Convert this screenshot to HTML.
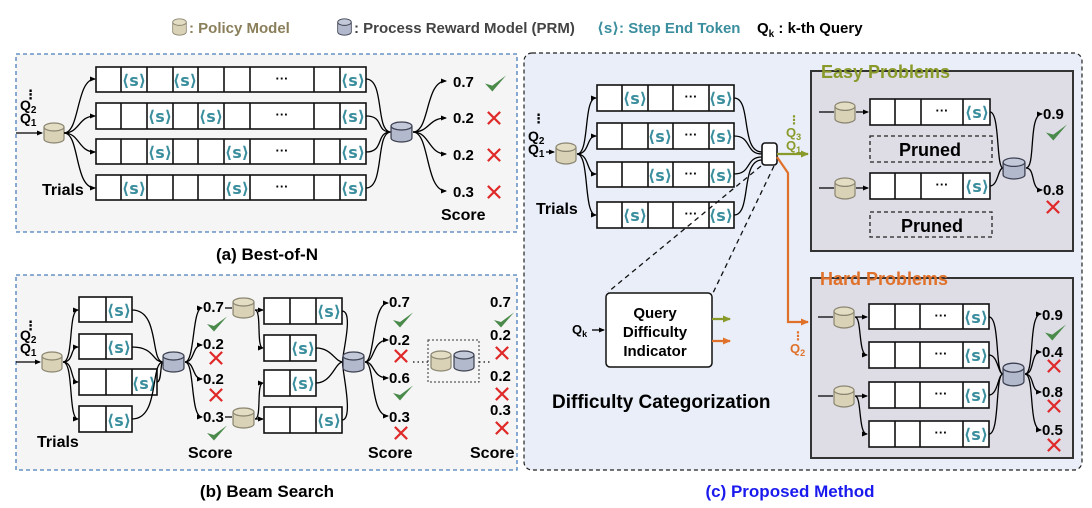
<!DOCTYPE html>
<html><head><meta charset="utf-8"><style>
html,body{margin:0;padding:0;background:#fff}
svg{display:block}
text{font-family:"Liberation Sans","DejaVu Sans",sans-serif;font-weight:bold}
.s{fill:#3a8e9e;font-size:16px;font-family:"DejaVu Sans","Liberation Sans",sans-serif;text-anchor:middle}
.d{font-size:13px;text-anchor:middle}
.sc{font-size:15px}
.c{fill:none;stroke:#000;stroke-width:1.3}
.cell{fill:#fff;stroke:#111;stroke-width:1.6}
</style></head><body>
<svg width="1092" height="508" viewBox="0 0 1092 508" xmlns="http://www.w3.org/2000/svg">
<defs>
<marker id="ar" markerWidth="6" markerHeight="6" refX="5" refY="3" orient="auto" markerUnits="userSpaceOnUse"><path d="M0,0.5 L6,3 L0,5.5z" fill="#000"/></marker>
<marker id="ag" markerWidth="8" markerHeight="8" refX="7" refY="4" orient="auto" markerUnits="userSpaceOnUse"><path d="M0,0.5 L8,4 L0,7.5z" fill="#8a9a2a"/></marker>
<marker id="ao" markerWidth="8" markerHeight="8" refX="7" refY="4" orient="auto" markerUnits="userSpaceOnUse"><path d="M0,0.5 L8,4 L0,7.5z" fill="#e0712a"/></marker>
<symbol id="pol" viewBox="0 0 22 22" preserveAspectRatio="none"><path d="M1,5 V17 A10,4 0 0 0 21,17 V5" fill="#d9d2b6" stroke="#8a8570" stroke-width="1.2"/><ellipse cx="11" cy="5" rx="10" ry="4" fill="#e3ddc4" stroke="#8a8570" stroke-width="1.2"/></symbol>
<symbol id="prm" viewBox="0 0 22 22" preserveAspectRatio="none"><path d="M1,5 V17 A10,4 0 0 0 21,17 V5" fill="#b3b9cc" stroke="#3c4050" stroke-width="1.2"/><ellipse cx="11" cy="5" rx="10" ry="4" fill="#c4c9da" stroke="#3c4050" stroke-width="1.2"/></symbol>
<symbol id="chk" viewBox="0 0 20 16" preserveAspectRatio="none"><path d="M0,8 L7,15.5 L20,0.5 L7,10z" fill="#4a8a4a"/></symbol>
<symbol id="x" viewBox="0 0 16 16" preserveAspectRatio="none"><path d="M1,1 L15,15 M15,1 L1,15" stroke="#e02a2a" stroke-width="2.6"/></symbol>
</defs>

<!-- legend -->
<use href="#pol" x="172" y="18" width="15" height="18"/>
<text x="189" y="33" font-size="15" fill="#8a7f5a">: Policy Model</text>
<use href="#prm" x="337" y="18" width="15" height="18"/>
<text x="354" y="33" font-size="15" fill="#444">: Process Reward Model (PRM)</text>
<text x="597" y="33" font-size="15" fill="#3a8e9e">⟨s⟩: Step End Token</text>
<text x="757" y="33" font-size="15" fill="#000">Q<tspan font-size="10" dy="4">k</tspan><tspan dy="-4"> : k-th Query</tspan></text>

<!-- Panel A -->
<rect x="16" y="54" width="501" height="178" fill="#f5f5f5" stroke="#4a7ebb" stroke-width="1.3" stroke-dasharray="4,3"/>
<g>
<rect class="cell" x="96" y="67" width="270" height="25"/><rect class="cell" x="96" y="103" width="270" height="26"/><rect class="cell" x="96" y="139" width="270" height="25"/><rect class="cell" x="96" y="175" width="270" height="25"/>
<path d="M121,67V92M147,67V92M173,67V92M198,67V92M224,67V92M250,67V92M314,67V92M340,67V92 M121,103V129M147,103V129M173,103V129M198,103V129M224,103V129M250,103V129M314,103V129M340,103V129 M121,139V164M147,139V164M173,139V164M198,139V164M224,139V164M250,139V164M314,139V164M340,139V164 M121,175V200M147,175V200M173,175V200M198,175V200M224,175V200M250,175V200M314,175V200M340,175V200" stroke="#111" stroke-width="1.6"/>
<text class="s" x="134" y="86">⟨s⟩</text><text class="s" x="185" y="86">⟨s⟩</text><text class="s" x="353" y="86">⟨s⟩</text>
<text class="s" x="160" y="122">⟨s⟩</text><text class="s" x="211" y="122">⟨s⟩</text><text class="s" x="353" y="122">⟨s⟩</text>
<text class="s" x="160" y="158">⟨s⟩</text><text class="s" x="237" y="158">⟨s⟩</text><text class="s" x="353" y="158">⟨s⟩</text>
<text class="s" x="134" y="194">⟨s⟩</text><text class="s" x="237" y="194">⟨s⟩</text><text class="s" x="353" y="194">⟨s⟩</text>
<text class="d" x="282" y="83">···</text><text class="d" x="282" y="119">···</text><text class="d" x="282" y="155">···</text><text class="d" x="282" y="191">···</text>
</g>
<text x="24" y="99" font-size="13">⋮</text>
<text x="20" y="110" font-size="14">Q<tspan font-size="10" dy="3">2</tspan></text>
<text x="20" y="123" font-size="14">Q<tspan font-size="10" dy="3">1</tspan></text>
<path class="c" d="M16,133 H42" marker-end="url(#ar)"/>
<use href="#pol" x="43" y="122" width="22" height="22"/>
<path class="c" d="M64,133 C80,133 76,79 95,79" marker-end="url(#ar)"/>
<path class="c" d="M64,133 C80,133 78,116 95,116" marker-end="url(#ar)"/>
<path class="c" d="M64,133 C80,133 78,152 95,152" marker-end="url(#ar)"/>
<path class="c" d="M64,133 C80,133 74,188 95,188" marker-end="url(#ar)"/>
<text x="42" y="195" font-size="16">Trials</text>
<path class="c" d="M366,79 C385,79 375,132 391,132 M366,116 C385,116 375,132 391,132 M366,152 C385,152 375,132 391,132 M366,188 C385,188 375,132 391,132"/>
<use href="#prm" x="390" y="121" width="23" height="22"/>
<path class="c" d="M413,132 C430,132 425,81 446,81" marker-end="url(#ar)"/>
<path class="c" d="M413,132 C430,132 428,118 446,118" marker-end="url(#ar)"/>
<path class="c" d="M413,132 C430,132 428,154 446,154" marker-end="url(#ar)"/>
<path class="c" d="M413,132 C430,132 425,191 446,191" marker-end="url(#ar)"/>
<text class="sc" x="453" y="87" font-size="16">0.7</text><text class="sc" x="453" y="123">0.2</text><text class="sc" x="453" y="160">0.2</text><text class="sc" x="453" y="197">0.3</text>
<use href="#chk" x="485" y="75" width="21" height="17"/>
<use href="#x" x="487" y="111" width="14" height="14"/><use href="#x" x="487" y="148" width="14" height="14"/><use href="#x" x="487" y="185" width="14" height="14"/>
<text x="441" y="220" font-size="16">Score</text>
<text x="267" y="260" font-size="17" text-anchor="middle">(a) Best-of-N</text>

<!-- Panel B -->
<rect x="16" y="275" width="501" height="195" fill="#f5f5f5" stroke="#4a7ebb" stroke-width="1.3" stroke-dasharray="4,3"/>
<rect class="cell" x="79" y="297" width="53" height="25"/><rect class="cell" x="79" y="334" width="53" height="25"/><rect class="cell" x="79" y="369" width="78" height="26"/><rect class="cell" x="79" y="406" width="53" height="26"/>
<path d="M106,297V322M106,334V359M106,369V395M132,369V395M106,406V432" stroke="#111" stroke-width="1.6"/>
<text class="s" x="119" y="316">⟨s⟩</text><text class="s" x="119" y="353">⟨s⟩</text><text class="s" x="144" y="389">⟨s⟩</text><text class="s" x="119" y="426">⟨s⟩</text>
<text x="24" y="330" font-size="13">⋮</text>
<text x="20" y="340" font-size="14">Q<tspan font-size="10" dy="3">2</tspan></text>
<text x="20" y="353" font-size="14">Q<tspan font-size="10" dy="3">1</tspan></text>
<path class="c" d="M16,362 H40" marker-end="url(#ar)"/>
<use href="#pol" x="41" y="351" width="22" height="22"/>
<path class="c" d="M63,362 C74,362 68,310 78,310" marker-end="url(#ar)"/>
<path class="c" d="M63,362 C74,362 70,347 78,347" marker-end="url(#ar)"/>
<path class="c" d="M63,362 C74,362 70,382 78,382" marker-end="url(#ar)"/>
<path class="c" d="M63,362 C74,362 68,419 78,419" marker-end="url(#ar)"/>
<text x="37" y="447" font-size="16">Trials</text>
<path class="c" d="M132,310 C160,310 150,362 163,362 M132,347 C155,347 152,362 163,362 M157,382 C162,382 160,362 163,362 M132,419 C160,419 150,362 163,362"/>
<use href="#prm" x="162" y="351" width="23" height="22"/>
<path class="c" d="M185,362 C195,362 192,308 202,308" marker-end="url(#ar)"/>
<path class="c" d="M185,362 C195,362 192,345 202,345" marker-end="url(#ar)"/>
<path class="c" d="M185,362 C195,362 192,379 202,379" marker-end="url(#ar)"/>
<path class="c" d="M185,362 C195,362 190,417 202,417" marker-end="url(#ar)"/>
<text class="sc" x="203" y="312">0.7</text><text class="sc" x="203" y="349">0.2</text><text class="sc" x="203" y="384">0.2</text><text class="sc" x="203" y="422">0.3</text>
<use href="#chk" x="207" y="316" width="20" height="16"/><use href="#x" x="209" y="351" width="14" height="14"/><use href="#x" x="209" y="388" width="14" height="14"/><use href="#chk" x="207" y="425" width="20" height="16"/>
<path class="c" d="M225,308 H232 M225,417 H232"/>
<use href="#pol" x="232" y="297" width="23" height="22"/><use href="#pol" x="232" y="407" width="23" height="22"/>
<path class="c" d="M255,310 H263" marker-end="url(#ar)"/>
<path class="c" d="M255,310 C262,310 256,348 263,348" marker-end="url(#ar)"/>
<path class="c" d="M255,419 C262,419 256,383 263,383" marker-end="url(#ar)"/>
<path class="c" d="M255,419 H263" marker-end="url(#ar)"/>
<rect class="cell" x="264" y="298" width="78" height="26"/><rect class="cell" x="264" y="335" width="52" height="26"/><rect class="cell" x="264" y="370" width="52" height="26"/><rect class="cell" x="264" y="407" width="78" height="26"/>
<path d="M290,298V324M316,298V324M290,335V361M290,370V396M290,407V433M316,407V433" stroke="#111" stroke-width="1.6"/>
<text class="s" x="329" y="317">⟨s⟩</text><text class="s" x="303" y="354">⟨s⟩</text><text class="s" x="303" y="389">⟨s⟩</text><text class="s" x="329" y="426">⟨s⟩</text>
<path class="c" d="M342,311 C355,311 340,362 343,362 M316,348 C332,348 335,362 343,362 M316,383 C332,383 335,362 343,362 M342,420 C355,420 340,362 343,362"/>
<use href="#prm" x="342" y="351" width="23" height="22"/>
<path class="c" d="M365,362 C375,362 372,303 388,303" marker-end="url(#ar)"/>
<path class="c" d="M365,362 C375,362 372,340 388,340" marker-end="url(#ar)"/>
<path class="c" d="M365,362 C375,362 372,378 388,378" marker-end="url(#ar)"/>
<path class="c" d="M365,362 C375,362 370,416 388,416" marker-end="url(#ar)"/>
<text class="sc" x="389" y="307">0.7</text><text class="sc" x="389" y="345">0.2</text><text class="sc" x="389" y="383">0.6</text><text class="sc" x="389" y="422">0.3</text>
<use href="#chk" x="393" y="312" width="20" height="16"/><use href="#x" x="394" y="349" width="14" height="14"/><use href="#chk" x="393" y="385" width="20" height="16"/><use href="#x" x="394" y="426" width="14" height="14"/>
<path d="M413,362 H428 M479,362 H490" stroke="#333" stroke-width="1.5" stroke-dasharray="1.5,3"/>
<rect x="428" y="340" width="51" height="42" fill="none" stroke="#333" stroke-width="1" stroke-dasharray="2,2"/>
<use href="#pol" x="430" y="350" width="22" height="22"/><use href="#prm" x="453" y="350" width="22" height="22"/>
<text class="sc" x="490" y="307">0.7</text><text class="sc" x="490" y="340">0.2</text><text class="sc" x="490" y="381">0.2</text><text class="sc" x="490" y="415">0.3</text>
<use href="#chk" x="494" y="312" width="20" height="16"/><use href="#x" x="495" y="346" width="14" height="14"/><use href="#x" x="495" y="387" width="14" height="14"/><use href="#x" x="495" y="421" width="14" height="14"/>
<text x="188" y="458" font-size="16">Score</text><text x="368" y="458" font-size="16">Score</text><text x="470" y="458" font-size="16">Score</text>
<text x="267" y="497" font-size="17" text-anchor="middle">(b) Beam Search</text>

<!-- Panel C -->
<rect x="524" y="53" width="558" height="417" rx="8" fill="#e9eef8" stroke="#222" stroke-width="1.2" stroke-dasharray="4,3"/>
<rect class="cell" x="597" y="85" width="137" height="26"/><rect class="cell" x="597" y="123" width="137" height="26"/><rect class="cell" x="597" y="162" width="137" height="25"/><rect class="cell" x="597" y="202" width="137" height="26"/>
<path d="M622,85V111M648,85V111M673,85V111M709,85V111 M622,123V149M648,123V149M673,123V149M709,123V149 M622,162V187M648,162V187M673,162V187M709,162V187 M622,202V228M648,202V228M673,202V228M709,202V228" stroke="#111" stroke-width="1.6"/>
<text class="s" x="635" y="104">⟨s⟩</text><text class="s" x="721" y="104">⟨s⟩</text>
<text class="s" x="660" y="142">⟨s⟩</text><text class="s" x="721" y="142">⟨s⟩</text>
<text class="s" x="660" y="181">⟨s⟩</text><text class="s" x="721" y="181">⟨s⟩</text>
<text class="s" x="635" y="221">⟨s⟩</text><text class="s" x="721" y="221">⟨s⟩</text>
<text class="d" x="691" y="101">···</text><text class="d" x="691" y="139">···</text><text class="d" x="691" y="178">···</text><text class="d" x="691" y="218">···</text>
<text x="532" y="123" font-size="13">⋮</text>
<text x="528" y="141" font-size="14">Q<tspan font-size="10" dy="3">2</tspan></text>
<text x="528" y="154" font-size="14">Q<tspan font-size="10" dy="3">1</tspan></text>
<path class="c" d="M546,152 H554" marker-end="url(#ar)"/>
<use href="#pol" x="555" y="142" width="22" height="23"/>
<path class="c" d="M577,154 C590,154 583,98 596,98" marker-end="url(#ar)"/>
<path class="c" d="M577,154 C590,154 586,136 596,136" marker-end="url(#ar)"/>
<path class="c" d="M577,154 C590,154 586,174 596,174" marker-end="url(#ar)"/>
<path class="c" d="M577,154 C590,154 583,215 596,215" marker-end="url(#ar)"/>
<text x="536" y="214" font-size="16">Trials</text>
<path class="c" d="M734,98 C752,98 740,152 762,152 M734,136 C752,136 745,154 762,154 M734,174 C752,174 745,157 762,157 M734,215 C752,215 740,160 762,160"/>
<rect x="762" y="143" width="15" height="22" rx="3" fill="#fff" stroke="#111" stroke-width="1.6"/>
<path d="M761,166 L608,292 M774,166 L712,295" stroke="#111" stroke-width="1.3" stroke-dasharray="5,4"/>
<path d="M777,154 H808" stroke="#8a9a2a" stroke-width="2.2" marker-end="url(#ag)"/>
<text x="788" y="124" font-size="12" fill="#8a9a2a">⋮</text>
<text x="786" y="137" font-size="13" fill="#8a9a2a">Q<tspan font-size="9" dy="3">3</tspan></text>
<text x="786" y="150" font-size="13" fill="#8a9a2a">Q<tspan font-size="9" dy="3">1</tspan></text>
<path d="M777,157 L788,173 V322 H808" fill="none" stroke="#e0712a" stroke-width="2.2" marker-end="url(#ao)"/>
<text x="792" y="340" font-size="12" fill="#e0712a">⋮</text>
<text x="790" y="353" font-size="13" fill="#e0712a">Q<tspan font-size="9" dy="3">2</tspan></text>
<rect x="606" y="293" width="106" height="74" rx="4" fill="#fff" stroke="#111" stroke-width="1.5"/>
<text x="655" y="318" font-size="15" text-anchor="middle">Query</text>
<text x="655" y="337" font-size="15" text-anchor="middle">Difficulty</text>
<text x="655" y="356" font-size="15" text-anchor="middle">Indicator</text>
<text x="572" y="334" font-size="13">Q<tspan font-size="9" dy="3">k</tspan></text>
<path class="c" d="M592,330 H604" marker-end="url(#ar)"/>
<path d="M712,319 H730" stroke="#8a9a2a" stroke-width="2.2" marker-end="url(#ag)"/>
<path d="M712,341 H730" stroke="#e0712a" stroke-width="2.2" marker-end="url(#ao)"/>
<text x="552" y="408" font-size="19">Difficulty Categorization</text>

<!-- Easy -->
<rect x="811" y="71" width="262" height="180" fill="#dedce5" stroke="#333" stroke-width="2"/>
<text x="821" y="78" font-size="18" fill="#8a9a2a">Easy Problems</text>
<path class="c" d="M819,112 H834 M856,112 H868" marker-end="url(#ar)"/>
<path class="c" d="M819,188 H834 M856,188 H868" marker-end="url(#ar)"/>
<use href="#pol" x="834" y="101" width="22" height="23"/><use href="#pol" x="834" y="177" width="22" height="23"/>
<rect class="cell" x="870" y="99" width="120" height="26"/><rect class="cell" x="870" y="173" width="120" height="26"/>
<path d="M895,99V125M921,99V125M963,99V125M895,173V199M921,173V199M963,173V199" stroke="#111" stroke-width="1.6"/>
<text class="s" x="977" y="118">⟨s⟩</text><text class="s" x="977" y="192">⟨s⟩</text>
<text class="d" x="942" y="115">···</text><text class="d" x="942" y="189">···</text>
<rect x="870" y="136" width="122" height="26" fill="none" stroke="#222" stroke-width="1.3" stroke-dasharray="4,3"/>
<rect x="870" y="212" width="122" height="25" fill="none" stroke="#222" stroke-width="1.3" stroke-dasharray="4,3"/>
<text x="930" y="156" font-size="18" text-anchor="middle">Pruned</text>
<text x="932" y="232" font-size="18" text-anchor="middle">Pruned</text>
<path class="c" d="M990,112 C1000,112 996,168 1003,168 M990,186 C998,186 998,168 1003,168"/>
<use href="#prm" x="1002" y="157" width="24" height="23"/>
<path class="c" d="M1026,168 C1036,168 1028,114 1042,114" marker-end="url(#ar)"/>
<path class="c" d="M1026,168 C1036,168 1030,190 1042,190" marker-end="url(#ar)"/>
<text class="sc" x="1043" y="119">0.9</text><text class="sc" x="1043" y="195">0.8</text>
<use href="#chk" x="1046" y="124" width="21" height="17"/><use href="#x" x="1046" y="200" width="14" height="14"/>

<!-- Hard -->
<rect x="811" y="278" width="262" height="180" fill="#dedce5" stroke="#333" stroke-width="2"/>
<text x="820" y="285" font-size="18" fill="#e0712a">Hard Problems</text>
<path class="c" d="M818,317 H833 M855,317 H867" marker-end="url(#ar)"/>
<path class="c" d="M818,396 H833 M855,396 H867" marker-end="url(#ar)"/>
<path class="c" d="M855,317 C862,317 858,355 867,355" marker-end="url(#ar)"/>
<path class="c" d="M855,396 C862,396 858,434 867,434" marker-end="url(#ar)"/>
<use href="#pol" x="833" y="306" width="22" height="23"/><use href="#pol" x="833" y="385" width="22" height="23"/>
<rect class="cell" x="869" y="304" width="120" height="25"/><rect class="cell" x="869" y="342" width="120" height="26"/><rect class="cell" x="869" y="382" width="120" height="26"/><rect class="cell" x="869" y="421" width="120" height="26"/>
<path d="M895,304V329M920,304V329M963,304V329 M895,342V368M920,342V368M963,342V368 M895,382V408M920,382V408M963,382V408 M895,421V447M920,421V447M963,421V447" stroke="#111" stroke-width="1.6"/>
<text class="s" x="976" y="323">⟨s⟩</text><text class="s" x="976" y="361">⟨s⟩</text><text class="s" x="976" y="401">⟨s⟩</text><text class="s" x="976" y="440">⟨s⟩</text>
<text class="d" x="941" y="320">···</text><text class="d" x="941" y="358">···</text><text class="d" x="941" y="398">···</text><text class="d" x="941" y="437">···</text>
<path class="c" d="M989,317 C1000,317 995,374 1003,374 M989,355 C998,355 998,374 1003,374 M989,395 C998,395 998,374 1003,374 M989,434 C1000,434 995,374 1003,374"/>
<use href="#prm" x="1002" y="362" width="23" height="25"/>
<path class="c" d="M1025,374 C1035,374 1028,314 1041,314" marker-end="url(#ar)"/>
<path class="c" d="M1025,374 C1035,374 1030,352 1041,352" marker-end="url(#ar)"/>
<path class="c" d="M1025,374 C1035,374 1030,392 1041,392" marker-end="url(#ar)"/>
<path class="c" d="M1025,374 C1035,374 1028,430 1041,430" marker-end="url(#ar)"/>
<text class="sc" x="1042" y="320">0.9</text><text class="sc" x="1042" y="357">0.4</text><text class="sc" x="1042" y="397">0.8</text><text class="sc" x="1042" y="435">0.5</text>
<use href="#chk" x="1045" y="324" width="21" height="17"/><use href="#x" x="1047" y="359" width="14" height="14"/><use href="#x" x="1047" y="399" width="14" height="14"/><use href="#x" x="1047" y="438" width="14" height="14"/>

<text x="790" y="497" font-size="17" text-anchor="middle" fill="#1a1aee">(c) Proposed Method</text>
</svg>
</body></html>
